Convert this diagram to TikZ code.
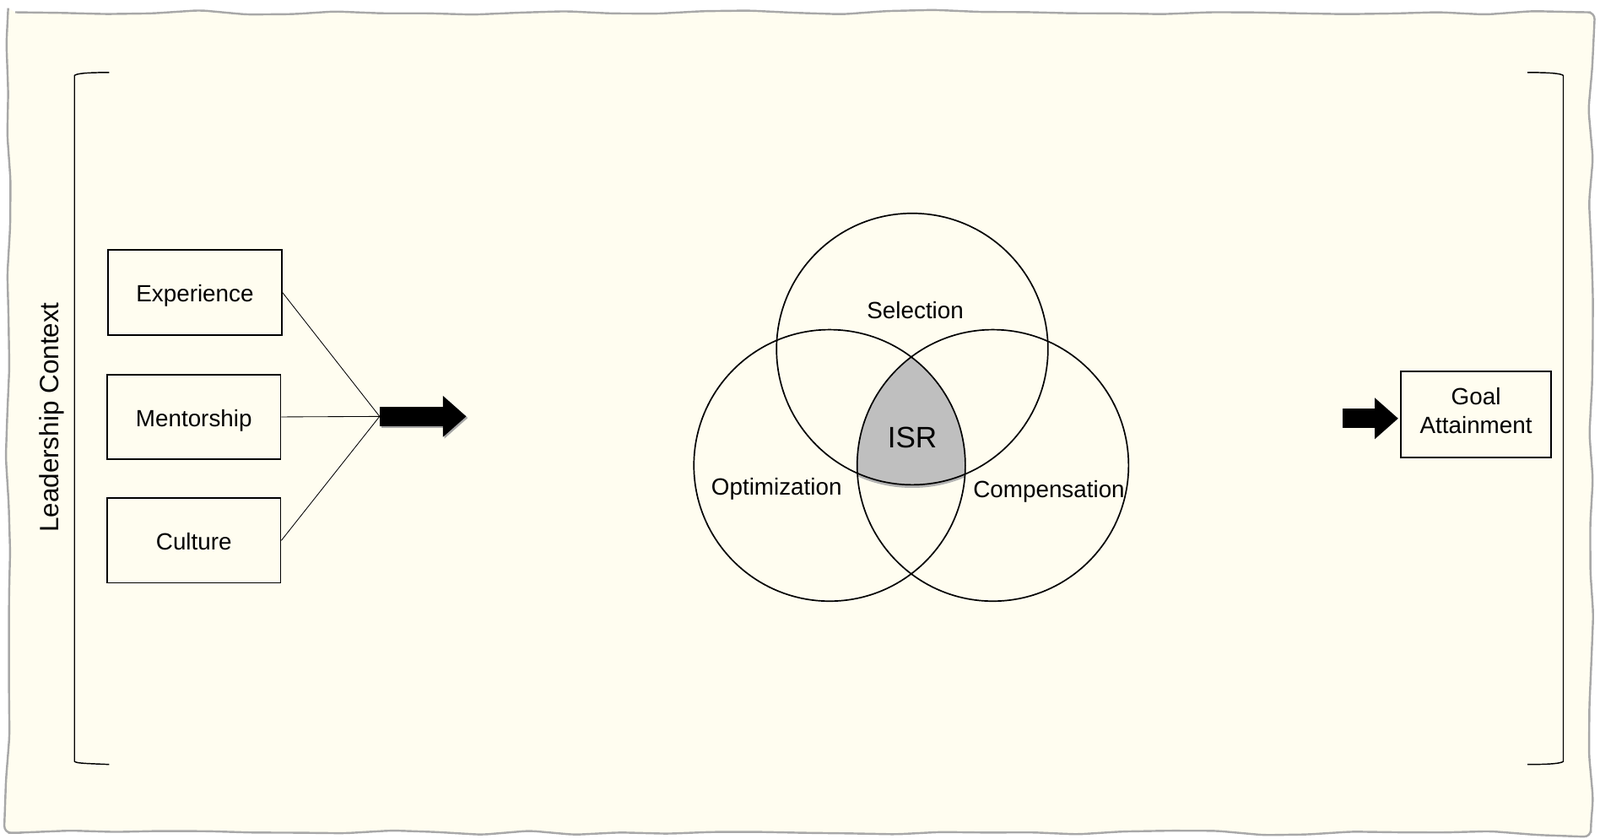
\documentclass[tikz,border=0pt]{standalone}
\usepackage{fontspec}
\setmainfont{Liberation Sans}
\usetikzlibrary{arrows.meta,decorations.pathmorphing}
\definecolor{cream}{HTML}{FFFDF0}
\definecolor{edgegray}{HTML}{A8A8A8}
\definecolor{isrgray}{HTML}{BFBFBF}
\tikzset{
  txt/.style={font=\fontsize{23}{27}\selectfont, inner sep=0pt, text height=16.8pt, text depth=0pt},
  fbox/.style={draw, line width=1.5pt, minimum width=170pt, minimum height=83pt, inner sep=0pt, font=\fontsize{23}{27}\selectfont, text height=19pt, text depth=0pt},
  vcirc/.style={draw, circle, line width=1.4pt, minimum size=266pt, inner sep=0pt},
  feed/.style={line width=0.7pt},
  bigarrow/.style={line width=19pt, -{Triangle[length=23pt, width=39pt]}},
  brack/.style={line width=1.2pt},
}
\begin{document}
\begin{tikzpicture}[x=1pt,y=-1pt]
\useasboundingbox (0,0) rectangle (1568,822);
\fill[white] (0,0) rectangle (1568,822);
% wavy paper
\draw[edgegray, line width=2pt, fill=cream, rounded corners=7pt,
  decorate, decoration={random steps, segment length=45pt, amplitude=2.4pt}]
  (8,12) -- (1559,12) -- (1559,816) -- (8,816) -- cycle;
% brackets
\draw[brack] (107,71) .. controls (85,71) and (75,72) .. (73,74) -- (73,746) .. controls (75,748) and (85,748) .. (107,749);
\draw[brack] (1497,71) .. controls (1519,71) and (1530,72) .. (1532,74) -- (1532,746) .. controls (1530,748) and (1519,749) .. (1497,749);
\node[rotate=90, inner sep=0pt, font=\fontsize{26}{30}\selectfont, text height=19pt, text depth=0pt] (lc) at (48,409) {Leadership Context};
% boxes
\node[fbox] (exp) at (191,286.5) {Experience};
\node[fbox] (men) at (190,408.5) {Mentorship};
\node[fbox] (cul) at (190,529.5) {Culture};
\coordinate (j) at (372,408);
\coordinate (jtip) at (457,408);
\draw[feed] (exp.east) -- (j);
\draw[feed] (men.east) -- (j);
\draw[feed] (cul.east) -- (j);
\draw[black!35, bigarrow] ([shift={(1.5,1.5)}]j) -- ([shift={(1.5,1.5)}]jtip);
\draw[bigarrow] (j) -- (jtip);
% ISR shading
\begin{scope}
  \clip (813,456) circle (133);
  \clip (973,456) circle (133);
  \fill[black!30] (894,345) circle (133);
  \fill[isrgray] (894,342) circle (133);
\end{scope}
% circles
\node[vcirc] (sel) at (894,342) {};
\node[vcirc] (opt) at (813,456) {};
\node[vcirc] (com) at (973,456) {};
\node[txt] (selt) at (897,303.5) {Selection};
\node[txt] (optt) at (761,477) {Optimization};
\node[txt] (comt) at (1028,479) {Compensation};
\node[inner sep=0pt, font=\fontsize{29}{33}\selectfont, text height=21pt, text depth=0pt] (isr) at (894,428) {ISR};
% goal
\node[draw, line width=1.5pt, minimum width=147pt, minimum height=84pt, inner sep=0pt, align=center, font=\fontsize{23}{28}\selectfont, text depth=7pt] (ga) at (1446.5,406) {Goal\\Attainment};
\coordinate (ra) at (1316,410);
\draw[bigarrow, shorten >=2pt] (ra) -- (ra -| ga.west);
\end{tikzpicture}
\end{document}
